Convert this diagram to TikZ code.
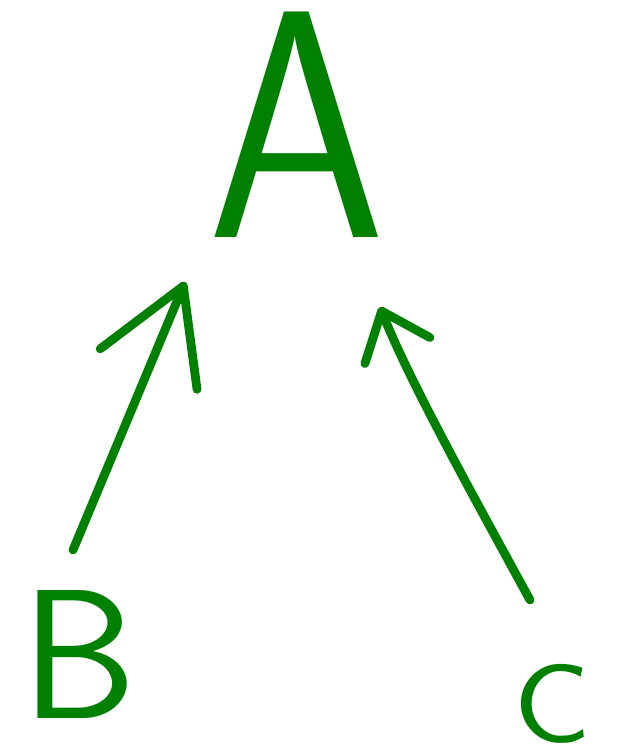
\documentclass[tikz,border=0pt]{standalone}
\usepackage{graphicx}
\usepackage{tikz}
\usetikzlibrary{arrows.meta, positioning}
\definecolor{inkgreen}{RGB}{0,128,0}

\begin{document}
\begin{tikzpicture}[%
    x=0.02cm, y=-0.02cm,   % one unit = one pixel of the sketch
    letter/.style={text=inkgreen, inner sep=0pt, font=\sffamily},
    ink/.style={draw=inkgreen, line width=5pt, line cap=round, line join=round},
    bighead/.style={-{Straight Barb[length=1.8cm, width=2.1cm, round]}},
    smallhead/.style={-{Straight Barb[length=0.85cm, width=1.4cm, round]}}
]
    \useasboundingbox (0,0) rectangle (634,748);

    % letters
    \node[letter, anchor=south] (A) at (297,238) {\scalebox{0.88}[1]{\fontsize{185}{185}\selectfont A}};
    \node[letter, anchor=north] (B) at (79,590) {\fontsize{105}{105}\selectfont B};
    \node[letter, anchor=north] (C) at (552,664) {\scalebox{1.15}[1]{\fontsize{64}{64}\selectfont C}};

    % arrows into A
    \draw[ink, bighead] ([shift={(-6,-40)}]B.north) -- ([shift={(-112,44)}]A.south);
    \draw[ink, smallhead] ([shift={(-22,-64)}]C.north)
        .. controls +(-60,-110) and +(30,75) .. ([shift={(83,69)}]A.south);

\end{tikzpicture}
\end{document}
